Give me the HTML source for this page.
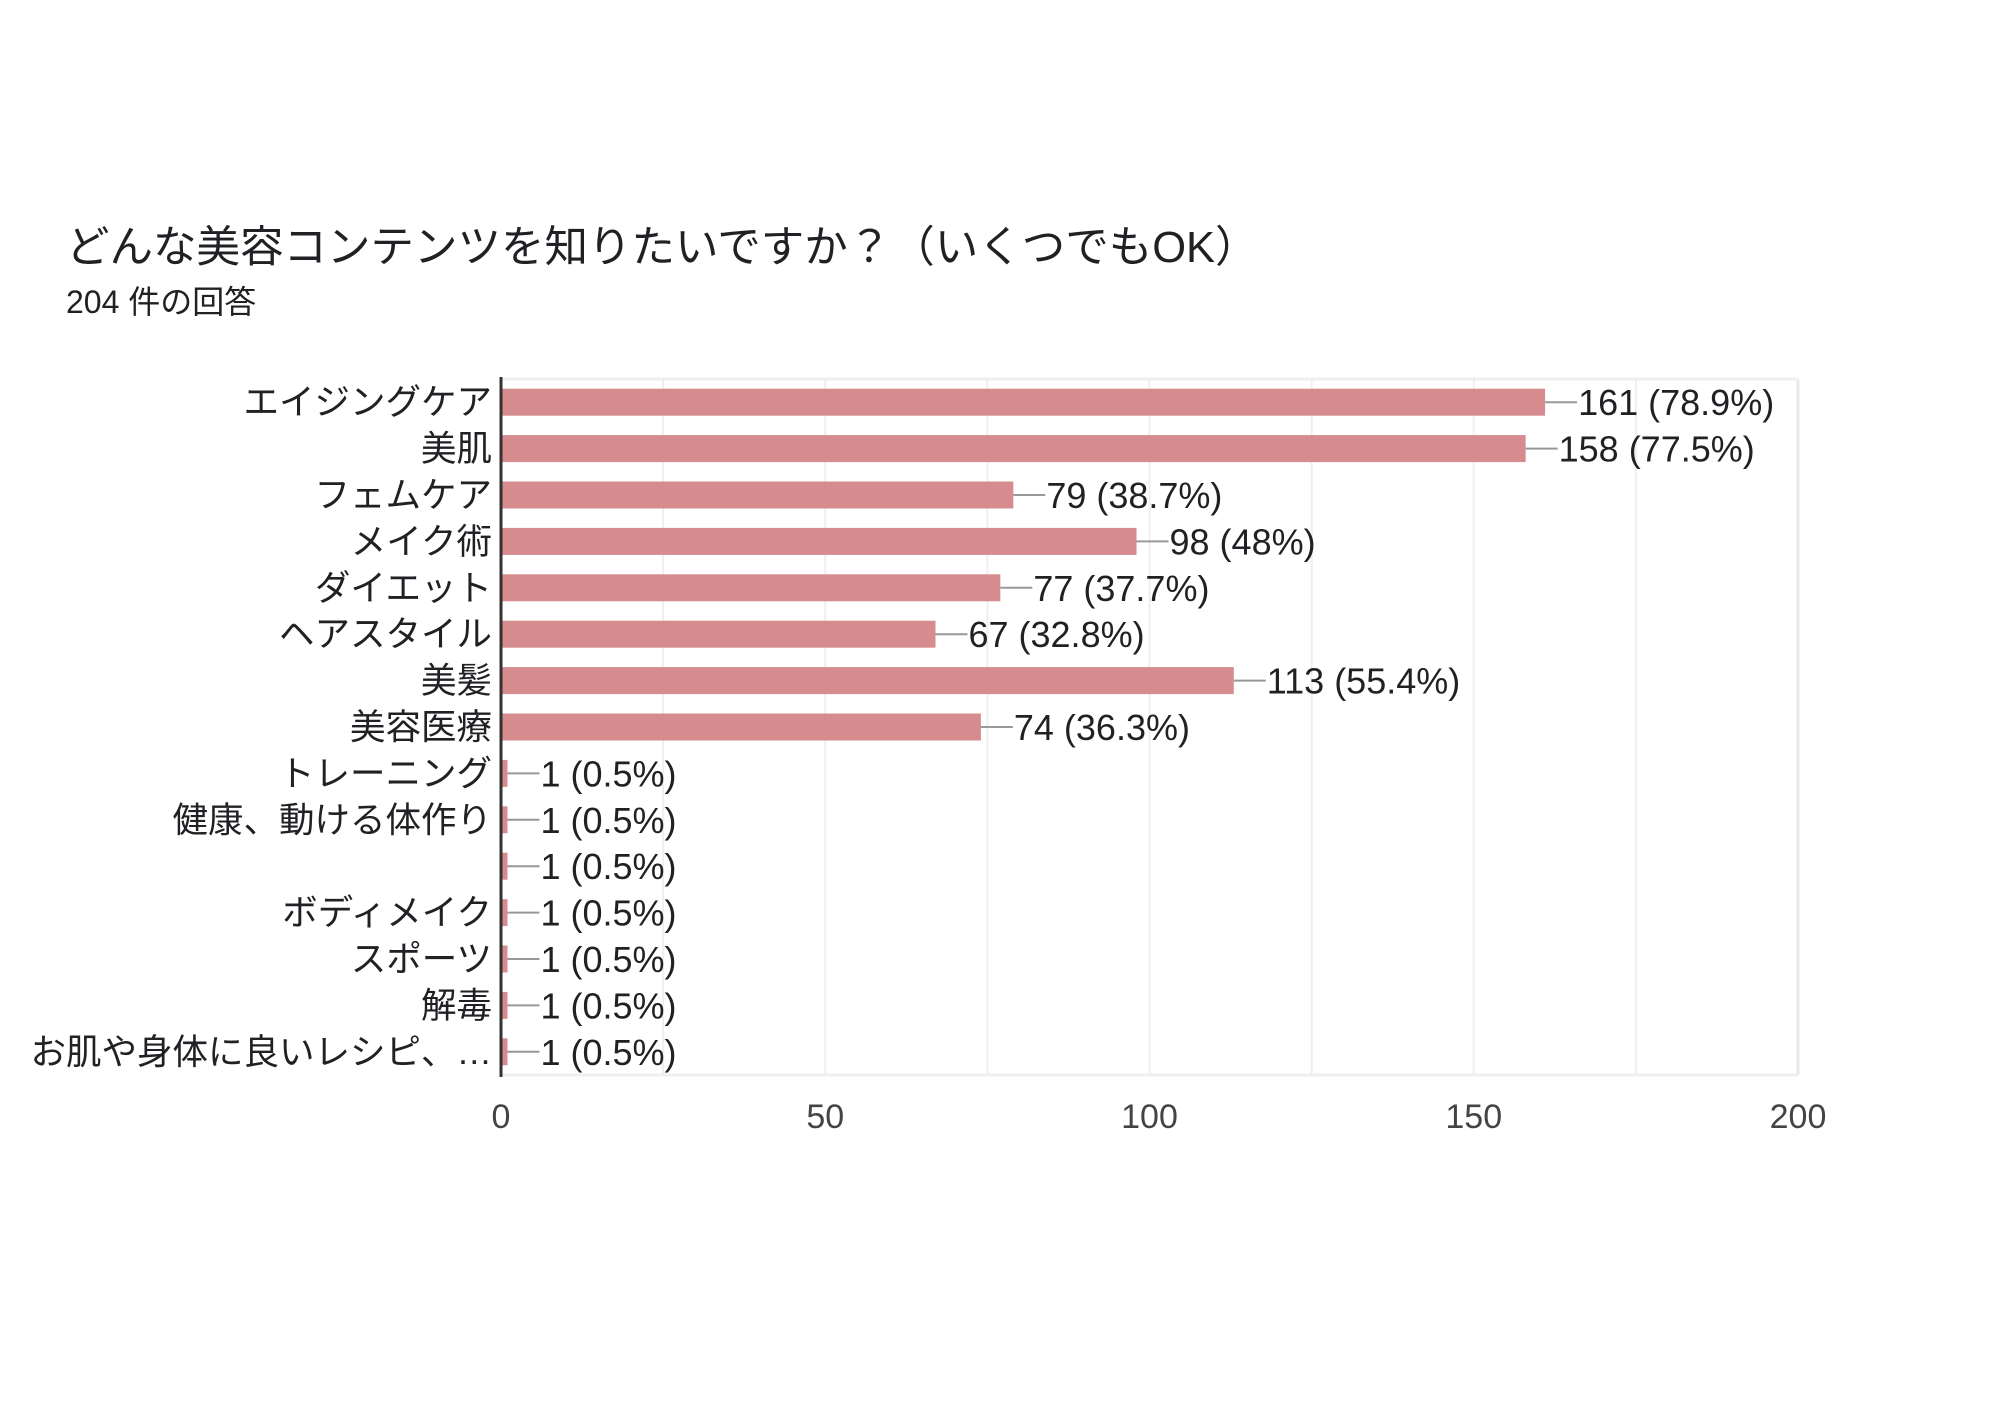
<!DOCTYPE html>
<html><head><meta charset="utf-8"><style>
body{margin:0;background:#fff;width:2000px;height:1414px;overflow:hidden;font-family:"Liberation Sans","Noto Sans CJK JP",sans-serif}
#title{position:absolute;left:66px;top:212px;font-size:43.5px;color:#202124;white-space:nowrap}
#sub{position:absolute;left:66px;top:277px;font-size:32px;color:#202124}
</style></head><body>
<div id="title">どんな美容コンテンツを知りたいですか？（いくつでもOK）</div>
<div id="sub">204 件の回答</div>
<svg id="chart" width="2000" height="1414" style="position:absolute;left:0;top:0"></svg>
<script>
const categories=["エイジングケア","美肌","フェムケア","メイク術","ダイエット","ヘアスタイル","美髪","美容医療","トレーニング","健康、動ける体作り","","ボディメイク","スポーツ","解毒","お肌や身体に良いレシピ、…"];
const values=[161,158,79,98,77,67,113,74,1,1,1,1,1,1,1];
const valueLabels=["161 (78.9%)","158 (77.5%)","79 (38.7%)","98 (48%)","77 (37.7%)","67 (32.8%)","113 (55.4%)","74 (36.3%)","1 (0.5%)","1 (0.5%)","1 (0.5%)","1 (0.5%)","1 (0.5%)","1 (0.5%)","1 (0.5%)"];
const ticks=[0,50,100,150,200];
const minorTicks=[25,75,125,175];
const X0=501,X1=1798,Y0=379,Y1=1075,MAX=200;
const x=v=>X0+(X1-X0)*v/MAX;
const band=(Y1-Y0)/categories.length;
const yc=i=>Y0+band*(i+0.5);
const svg=document.getElementById('chart');
const NS='http://www.w3.org/2000/svg';
function mk(t,a){const e=document.createElementNS(NS,t);for(const k in a)e.setAttribute(k,a[k]);svg.appendChild(e);return e;}
ticks.concat(minorTicks).forEach(t=>{
 const g=mk('line',{x1:x(t),x2:x(t),y1:Y0,y2:Y1,stroke:t===200?'#e8e8e8':'#efefef','stroke-width':t===200?3:2});
 
 
});
const borderTop=mk('line',{x1:X0,x2:X1,y1:Y0,y2:Y0,stroke:'#efefef','stroke-width':3});


const borderBot=mk('line',{x1:X0,x2:X1,y1:Y1,y2:Y1,stroke:'#efefef','stroke-width':3});


ticks.forEach(t=>{
 const e=mk('text',{x:x(t),y:1128,'text-anchor':'middle','font-size':34,fill:'#444'});
 e.textContent=t;
 
 
});
categories.forEach((c,i)=>{
 const cy=yc(i),w=x(values[i])-X0;
 const r=mk('rect',{x:X0,y:cy-13.5,width:Math.max(w,5),height:27,fill:'#d68c8e'});
 
 
 const ex=X0+Math.max(w,5);
 const l=mk('line',{x1:ex,x2:ex+32,y1:cy,y2:cy,stroke:'#999','stroke-width':2});
 
 
 const v=mk('text',{x:ex+33,y:cy+13,'font-size':36,fill:'#202124'});
 v.textContent=valueLabels[i];
 
 
 const t=mk('text',{x:492,y:cy+12,'text-anchor':'end','font-size':35.5,fill:'#202124'});
 t.textContent=c;
 
 
});
const ax=mk('line',{x1:X0,x2:X0,y1:Y0-2,y2:Y1+2,stroke:'#333','stroke-width':3});


</script>
</body></html>
